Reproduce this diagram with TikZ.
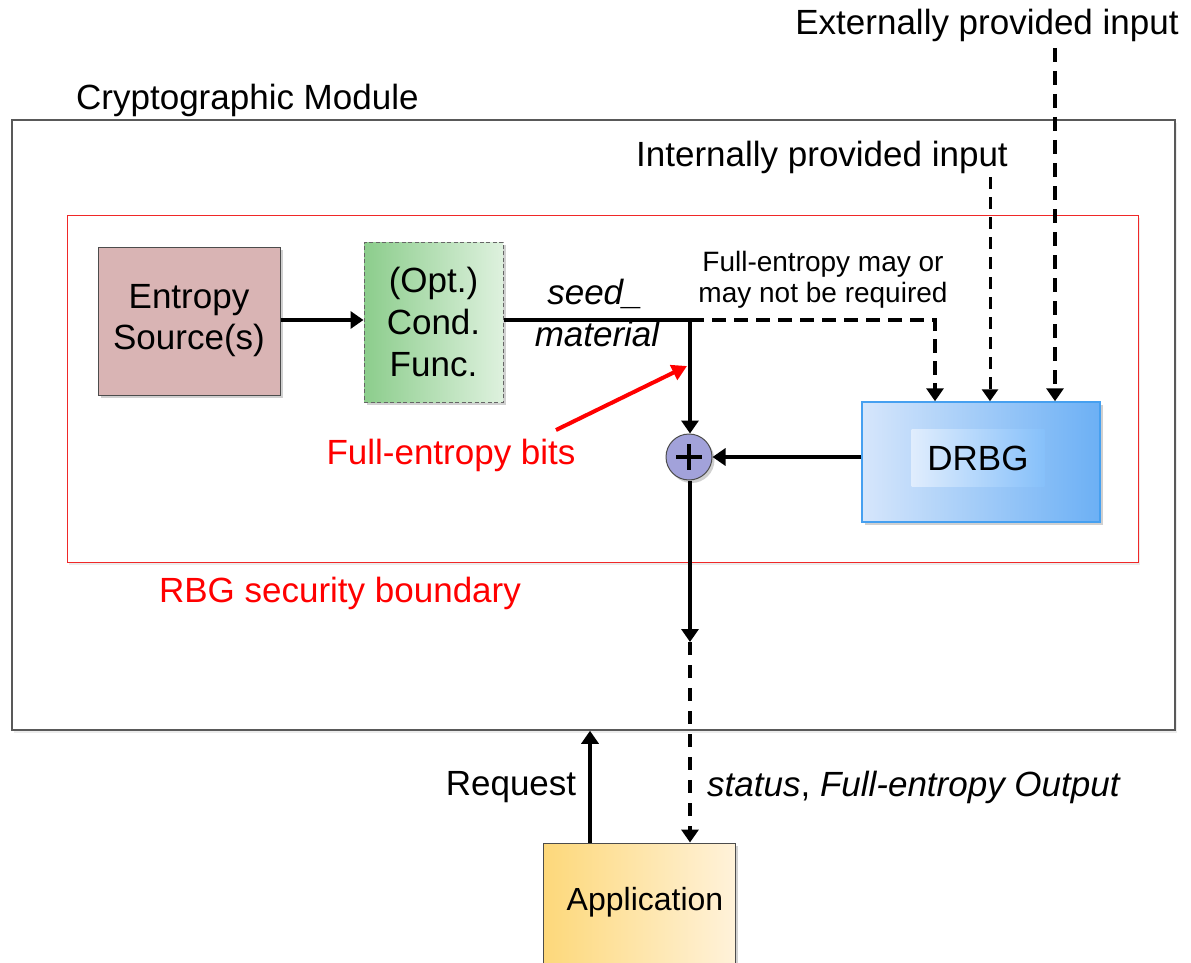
\documentclass[tikz,border=0pt]{standalone}
\usepackage{fontspec}
\setmainfont{Liberation Sans}
\usetikzlibrary{arrows.meta,shadows,calc}

\definecolor{entfill}{RGB}{217,180,180}
\definecolor{condL}{RGB}{140,205,140}
\definecolor{condR}{RGB}{222,241,222}
\definecolor{drbgL}{RGB}{214,230,251}
\definecolor{drbgR}{RGB}{108,176,245}
\definecolor{drbgInL}{RGB}{224,237,253}
\definecolor{drbgInR}{RGB}{134,192,250}
\definecolor{drbgEdge}{RGB}{70,160,240}
\definecolor{appL}{RGB}{253,216,122}
\definecolor{appR}{RGB}{255,242,218}
\definecolor{xorfill}{RGB}{162,162,218}
\definecolor{bndred}{RGB}{240,40,40}

\begin{document}
\begin{tikzpicture}[x=1pt,y=-1pt,
  font=\fontsize{35}{41}\selectfont,
  ln/.style={line width=4pt},
  arr/.style={line width=4pt,-{Triangle[length=13pt,width=17pt]}},
  dsh/.style={dash pattern=on 14pt off 8pt},
  thindsh/.style={line width=3pt,dash pattern=on 12pt off 8pt,-{Triangle[length=12pt,width=16pt]}},
  shad/.style={drop shadow={shadow xshift=2.5pt,shadow yshift=-3pt,opacity=0.3,fill=black!60}},
  blk/.style={align=center,inner sep=0pt,shad},
  lbl/.style={align=center,inner sep=0pt},
]
\useasboundingbox (0,0) rectangle (1191,963);

% enclosing module and RBG boundary
\node[draw=black!65,line width=1.5pt,minimum width=1163pt,minimum height=610pt,inner sep=0pt,
      drop shadow={shadow xshift=2pt,shadow yshift=-3pt,opacity=0.15,fill=black!50},fill=white]
      (cm) at (593.5,425) {};
\node[lbl,anchor=west] (cmlbl) at (76,100) {Cryptographic Module};
\node[draw=bndred,line width=1pt,minimum width=1071pt,minimum height=347pt,inner sep=0pt,
      drop shadow={shadow xshift=2pt,shadow yshift=-3pt,opacity=0.15,fill=black!50},fill=white]
      (rbg) at (602.5,388.5) {};
\node[lbl,text=red] (rbglbl) at (340,593) {RBG security boundary};

% processing blocks
\node[blk,draw=black!70,line width=1pt,fill=entfill,minimum width=182pt,minimum height=148pt]
      (ent) at (189,321) {Entropy\\Source(s)};
\node[blk,draw=black!60,line width=1pt,dash pattern=on 4pt off 2.5pt,left color=condL,right color=condR,
      minimum width=139pt,minimum height=160pt,font=\fontsize{35}{42}\selectfont]
      (cond) at (433.5,322) {(Opt.)\\Cond.\\Func.};
\node[blk,draw=drbgEdge,line width=1.5pt,left color=drbgL,right color=drbgR,
      minimum width=238pt,minimum height=120pt] (drbg) at (981,462) {};
\node[lbl,left color=drbgInL,right color=drbgInR,minimum width=133pt,minimum height=57pt]
      (drbgtxt) at (978,458) {DRBG};
\node[circle,draw=black!70,line width=1pt,fill=xorfill,minimum size=46pt,inner sep=0pt,shad]
      (xor) at (689,457) {};
\draw[line width=4pt] ($(xor)+(-13,0)$) -- ($(xor)+(13,0)$);
\draw[line width=4pt] ($(xor)+(0,-13)$) -- ($(xor)+(0,13)$);
\node[blk,draw=black!70,line width=1pt,left color=appL,right color=appR,
      minimum width=192pt,minimum height=124pt] (app) at (639,905) {};
\node[lbl,font=\fontsize{32}{38}\selectfont] (apptxt) at (645,902) {Application};

% inputs from above
\node[lbl] (extin) at (987,25) {Externally provided input};
\node[lbl] (intin) at (822,157) {Internally provided input};
\coordinate (e0) at (1055,48);
\coordinate (i0) at (990,177);
\draw[line width=4pt,dash pattern=on 14pt off 9pt,-{Triangle[length=13pt,width=17pt]}]
      (e0) -- (e0 |- drbg.north);
\draw[thindsh] (i0) -- (i0 |- drbg.north);

% seed material path
\coordinate (j) at (690,320);
\coordinate (jd) at (935,320);
\draw[arr] (ent.east |- j) -- (cond.west |- j);
\draw[ln] (cond.east |- j) -- (j);
\draw[arr] (j) -- (j |- xor.north);
\draw[arr,dsh] (j) -- (jd) -- (jd |- drbg.north);
\node[lbl,font=\itshape\fontsize{35}{41}\selectfont] (seed) at (595,294) {seed\_};
\node[lbl,font=\itshape\fontsize{35}{41}\selectfont] (mat) at (597,334) {material};
\node[lbl,font=\fontsize{28}{31}\selectfont] (fenote) at (823,280)
      {Full-entropy may or\\may not be required};

% DRBG output into the combiner
\draw[arr] (drbg.west |- xor.east) -- (xor.east);

% full-entropy bits annotation
\node[lbl,text=red] (fb) at (451,455) {Full-entropy bits};
\coordinate (fbtail) at (556,430);
\coordinate (fbtip) at (687,366);
\draw[red,line width=4pt,-{Triangle[length=15pt,width=16pt]}] (fbtail) -- (fbtip);

% output to the application and request into the module
\coordinate (o1) at (690,642);
\draw[arr] (j |- xor.south) -- (o1);
\draw[arr,dash pattern=on 13pt off 10pt] (o1) -- (o1 |- app.north);
\coordinate (rq) at (590,0);
\draw[arr] (app.north -| rq) -- (cm.south -| rq);
\node[lbl] (req) at (511,787) {Request};
\node[lbl,anchor=west] (stat) at (707,787) {\itshape status\upshape, \itshape Full-entropy Output};
\end{tikzpicture}
\end{document}
